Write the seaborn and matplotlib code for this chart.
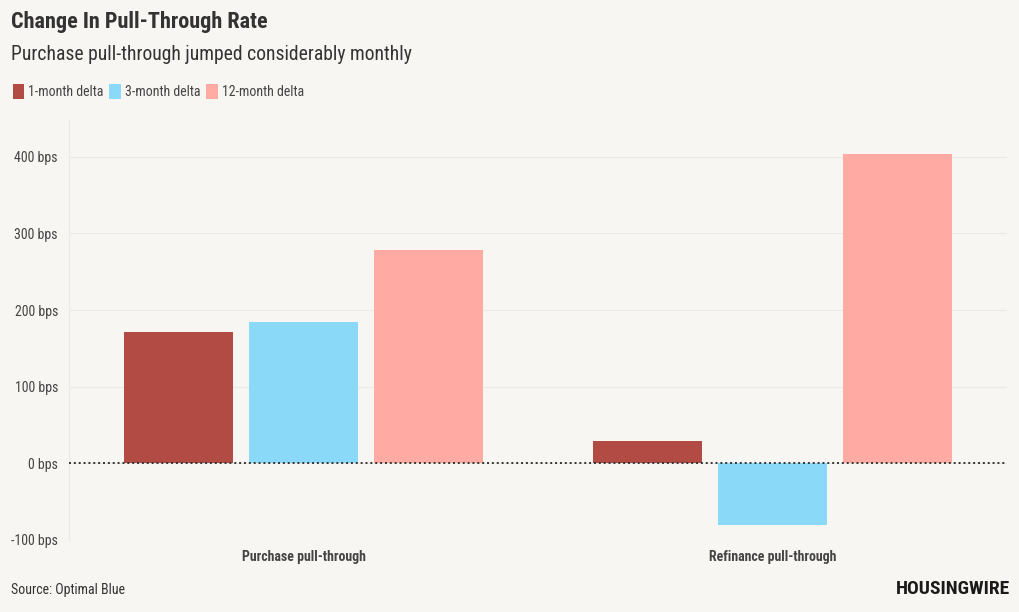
import matplotlib
matplotlib.use("Agg")
import matplotlib.pyplot as plt
from matplotlib import font_manager
import seaborn as sns
import pandas as pd

categories = ["Purchase pull-through", "Refinance pull-through"]
series_names = ["1-month delta", "3-month delta", "12-month delta"]
one_month = [171, 29]
three_month = [185, -80]
twelve_month = [278, 403]
y_ticks = [-100, 0, 100, 200, 300, 400]
y_tick_labels = ["-100 bps", "0 bps", "100 bps", "200 bps", "300 bps", "400 bps"]
colors = ["#b34b45", "#8ad9f8", "#ffaaa2"]

rows = []
for name, vals in zip(series_names, [one_month, three_month, twelve_month]):
    for c, v in zip(categories, vals):
        rows.append({"category": c, "series": name, "value": v})
df = pd.DataFrame(rows)

sns.set_theme(style="white")
avail = {f.name for f in font_manager.fontManager.ttflist}
fam = "DejaVu Sans"
for cand in ["Roboto Condensed", "Liberation Sans Narrow", "Roboto", "Noto Sans"]:
    if cand in avail:
        fam = cand
        break
plt.rcParams["font.family"] = [fam, "DejaVu Sans"]

bg = "#f8f6f2"
fig = plt.figure(figsize=(10.2, 6.12), dpi=100, facecolor=bg)
ax = fig.add_axes([69/1020, 1 - 540/612, (1007-69)/1020, (540-120)/612])
ax.set_facecolor(bg)

sns.barplot(data=df, x="category", y="value", hue="series", order=categories,
            hue_order=series_names, palette=colors, width=0.8, gap=0.13,
            saturation=1, ax=ax, legend=True, errorbar=None, linewidth=0)

ax.set_xlim(-0.5, 1.5)
ax.set_ylim(-100, 448)
ax.set_yticks(y_ticks)
ax.set_yticklabels(y_tick_labels, fontsize=10, color="#444444")
ax.set_xticks(range(len(categories)))
ax.set_xticklabels(categories, fontsize=10, color="#444444", fontweight="bold")
ax.tick_params(axis="both", length=0)
ax.tick_params(axis="y", pad=8)
ax.tick_params(axis="x", pad=7)
ax.set_xlabel("")
ax.set_ylabel("")
ax.grid(axis="y", color="#ebe9e5", linewidth=0.8)
ax.set_axisbelow(True)
for s in ["top", "right", "bottom"]:
    ax.spines[s].set_visible(False)
ax.spines["left"].set_color("#ebe9e5")
ax.spines["left"].set_linewidth(0.8)
ax.axhline(0, color="#333333", linestyle=(0, (1, 1.5)), linewidth=1.4, zorder=5)

handles, labels = ax.get_legend_handles_labels()
ax.get_legend().remove()
fig.legend(handles, labels, loc="upper left", bbox_to_anchor=(0/1020, 1 - 72/612),
           ncol=3, frameon=False, fontsize=10, handlelength=0.85, handleheight=1.2,
           handletextpad=0.25, columnspacing=0.45, labelcolor="#444444")

fig.text(11/1020, 1 - 22/612, "Change In Pull-Through Rate", fontsize=16,
         fontweight="bold", color="#333333", va="center", ha="left")
fig.text(11/1020, 1 - 55/612, "Purchase pull-through jumped considerably monthly",
         fontsize=14.1, color="#333333", va="center", ha="left")
fig.text(11/1020, 1 - 590/612, "Source: Optimal Blue", fontsize=10,
         color="#333333", va="center", ha="left")
fig.text(1010/1020, 1 - 589/612, "HOUSINGWIRE", fontsize=14, fontweight="heavy",
         color="#1a1a1a", va="center", ha="right")

fig.savefig("out.png", dpi=100, facecolor=bg)
